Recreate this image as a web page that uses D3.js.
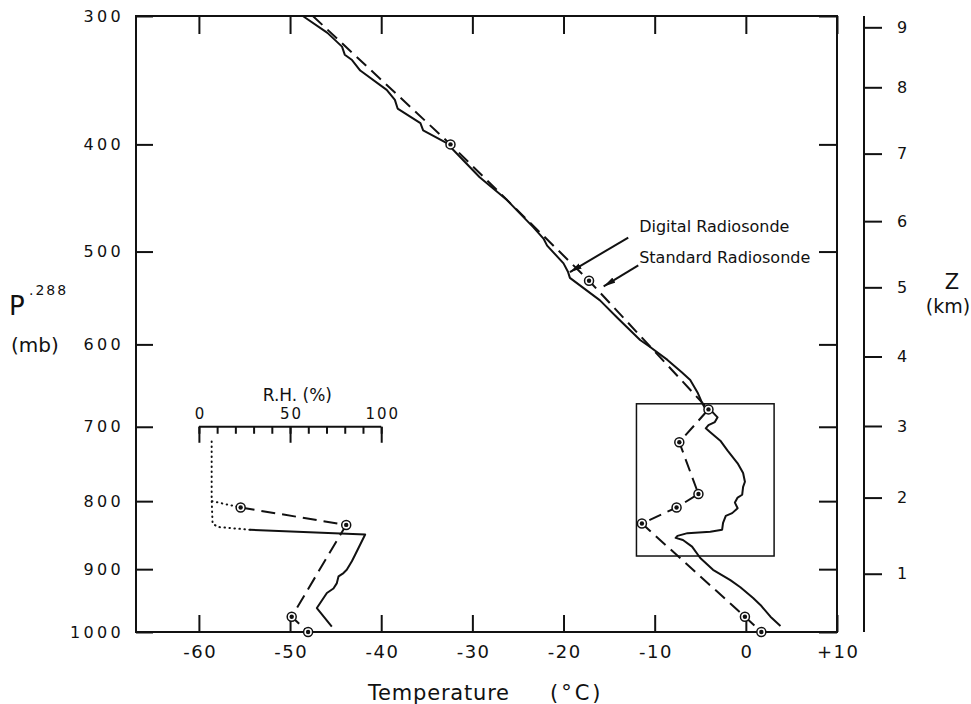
<!DOCTYPE html>

<head>
  <meta charset="utf-8">
  <title>Digital vs Standard Radiosonde</title>
  <style>
    body {
      margin: 0;
      background: #fff;
    }

    text {
      font-family: "DejaVu Sans", sans-serif;
      fill: #111;
    }

    .axis .domain {
      display: none;
    }

    .axis line {
      stroke: #111;
      stroke-width: 2;
    }
  </style>
</head>

<body>

  <svg id="chart" width="971" height="704"></svg>

  <script src="https://d3js.org/d3.v7.min.js"></script>

  <script>

    /******* Data *******/

    //Axis ticks
    var pTicks = [300, 400, 500, 600, 700, 800, 900, 1000];
    var tTicks = [-60, -50, -40, -30, -20, -10, 0, 10];
    var rhTicks = [0, 10, 20, 30, 40, 50, 60, 70, 80, 90, 100];
    var rhLabels = [0, 50, 100];
    var zTicksKm = [1, 2, 3, 4, 5, 6, 7, 8, 9];
    var zTicksMb = [907, 795, 699, 614, 537, 470, 408, 353, 308];

    //Temperature soundings, [pressure mb, temperature C]
    var digitalT = [
      [300, -48.6], [312, -45.9], [322, -44.3], [328, -44.0], [332, -43.2], [340, -42.3],
      [355, -39.4], [363, -38.5], [370, -38.2], [382, -35.7], [388, -35.4], [399, -32.8],
      [429, -29.2], [450, -26.2], [476, -23.3], [487, -22.2], [494, -21.8], [512, -20.0],
      [521, -19.5], [527, -19.3], [551, -16.0], [570, -14.1], [595, -11.6], [603, -10.5],
      [618, -8.6], [633, -7.0], [642, -6.1], [657, -5.3], [670, -4.8], [676, -4.5],
      [682, -3.6], [688, -3.1], [694, -3.4], [698, -4.1], [702, -4.4], [707, -3.9],
      [718, -2.8], [731, -2.0], [748, -0.9], [761, -0.3], [773, -0.1], [780, -0.3],
      [791, -0.4], [795, -0.9], [802, -1.2], [810, -0.9], [817, -1.5], [821, -2.2],
      [831, -2.5], [841, -2.6], [844, -3.9], [846, -6.4], [850, -7.5], [853, -7.7],
      [856, -6.9], [866, -5.9], [883, -5.0], [901, -3.6], [917, -1.7], [928, -0.6],
      [945, 0.8], [956, 1.6], [975, 2.7], [990, 3.8]
    ];
    var standardT = [
      [300, -47.5], [400, -32.4], [530, -17.2], [678, -4.1], [720, -7.3],
      [790, -5.2], [809, -7.6], [832, -11.4], [975, -0.1], [1000, 1.7]
    ];

    //Relative humidity, [pressure mb, RH %]
    var digitalRH = [
      [841, 28], [848, 91.2], [878, 85.7], [888, 83.9], [901, 81.1], [906, 79.3],
      [911, 76.6], [922, 75.6], [930, 73.8], [937, 70.2], [961, 64.7], [991, 72.9]
    ];
    var digitalRHDry = [[719, 7], [798, 7], [832, 7.5], [837, 10.5], [841, 28]];
    var standardRH = [[809, 22.9], [834, 80.8], [975, 50.9], [1000, 59.9]];
    var standardRHDry = [[800, 7.2], [809, 22.9]];

    //Boxed layer (temperature C, pressure mb)
    var boxT = [-12, 3.1];
    var boxP = [671, 880];

    /******* Setup *******/

    var svg = d3.select("#chart"),
        margin = {top: 16, right: 134, bottom: 72, left: 136},
        width = +svg.attr("width") - margin.left - margin.right,
        height = +svg.attr("height") - margin.top - margin.bottom,
        graph = svg.append("g").attr("transform", "translate(" + margin.left + "," + margin.top + ")");

    var x = d3.scaleLinear().domain([-66.9, 10]).range([0, width]);
    var y = d3.scalePow().exponent(0.288).domain([300, 1000]).range([0, height]);
    var rh = d3.scaleLinear().domain([0, 100]).range([x(-60), x(-40)]);

    var fmtT = function(d) {
      return d > 0 ? "+" + d : String(d);
    };

    /******* Axes *******/

    graph.append("g")
      .attr("class", "axis")
      .attr("transform", "translate(0," + height + ")")
      .call(d3.axisBottom(x).tickValues(tTicks).tickSize(-17).tickPadding(13).tickFormat(fmtT))
      .selectAll("text")
      .style("font-size", "18px")
      .attr("letter-spacing", 1.5)
      .attr("dx", 0.75);

    graph.append("g")
      .attr("class", "axis")
      .call(d3.axisTop(x).tickValues(tTicks).tickSize(-18).tickFormat(""));

    graph.append("g")
      .attr("class", "axis")
      .call(d3.axisLeft(y).tickValues(pTicks).tickSize(-17).tickPadding(12).tickFormat(String))
      .selectAll("text")
      .style("font-size", "16px")
      .attr("letter-spacing", 3.3);

    graph.append("g")
      .attr("class", "axis")
      .attr("transform", "translate(" + width + ",0)")
      .call(d3.axisRight(y).tickValues(pTicks).tickSize(-18).tickFormat(""));

    graph.append("rect")
      .attr("width", width)
      .attr("height", height)
      .attr("fill", "none")
      .attr("stroke", "#111")
      .attr("stroke-width", 2);

    //Height axis on the right
    var zAxis = graph.append("g")
      .attr("class", "axis")
      .attr("transform", "translate(" + (width + 27) + ",0)")
      .call(d3.axisRight(y).tickValues(zTicksMb).tickSize(18).tickPadding(15)
        .tickFormat(function(d, i) { return zTicksKm[i]; }));
    zAxis.selectAll("text").style("font-size", "16px");
    zAxis.append("line")
      .attr("y1", 0)
      .attr("y2", height);

    /******* Temperature curves *******/

    var line = d3.line()
      .x(function(d) { return x(d[1]); })
      .y(function(d) { return y(d[0]); });

    graph.append("rect")
      .attr("x", x(boxT[0]))
      .attr("y", y(boxP[0]))
      .attr("width", x(boxT[1]) - x(boxT[0]))
      .attr("height", y(boxP[1]) - y(boxP[0]))
      .attr("fill", "none")
      .attr("stroke", "#111")
      .attr("stroke-width", 1.5);

    graph.append("path")
      .datum(standardT)
      .attr("d", line)
      .attr("fill", "none")
      .attr("stroke", "#111")
      .attr("stroke-width", 2)
      .attr("stroke-dasharray", "13,7");

    graph.append("path")
      .datum(digitalT)
      .attr("d", line)
      .attr("fill", "none")
      .attr("stroke", "#111")
      .attr("stroke-width", 2)
      .attr("stroke-linejoin", "round");

    /******* Relative humidity inset *******/

    var rhLine = d3.line()
      .x(function(d) { return rh(d[1]); })
      .y(function(d) { return y(d[0]); });

    var inset = graph.append("g")
      .attr("class", "axis")
      .attr("transform", "translate(0," + y(700) + ")");

    inset.call(d3.axisTop(rh).tickValues(rhTicks).tickSize(-7).tickFormat(""));

    var insetMajor = graph.append("g")
      .attr("class", "axis")
      .attr("transform", "translate(0," + y(700) + ")")
      .call(d3.axisTop(rh).tickValues(rhLabels).tickSize(-16).tickPadding(8));
    insetMajor.selectAll("text")
      .style("font-size", "15px")
      .attr("letter-spacing", 2)
      .attr("dx", 1);

    inset.append("line")
      .attr("x1", rh(0))
      .attr("x2", rh(100));

    graph.append("text")
      .attr("x", rh(54))
      .attr("y", y(700) - 26)
      .attr("text-anchor", "middle")
      .style("font-size", "17px")
      .text("R.H. (%)");

    graph.append("path")
      .datum(digitalRHDry)
      .attr("d", rhLine)
      .attr("fill", "none")
      .attr("stroke", "#111")
      .attr("stroke-width", 2)
      .attr("stroke-linecap", "round")
      .attr("stroke-dasharray", "0.5,4.5");

    graph.append("path")
      .datum(standardRHDry)
      .attr("d", rhLine)
      .attr("fill", "none")
      .attr("stroke", "#111")
      .attr("stroke-width", 2)
      .attr("stroke-linecap", "round")
      .attr("stroke-dasharray", "0.5,4.5");

    graph.append("path")
      .datum(digitalRH)
      .attr("d", rhLine)
      .attr("fill", "none")
      .attr("stroke", "#111")
      .attr("stroke-width", 2)
      .attr("stroke-linejoin", "round");

    graph.append("path")
      .datum(standardRH)
      .attr("d", rhLine)
      .attr("fill", "none")
      .attr("stroke", "#111")
      .attr("stroke-width", 2)
      .attr("stroke-dasharray", "14,7");

    /******* Markers *******/

    var markerData = standardT.slice(1).map(function(d) {
      return [x(d[1]), y(d[0])];
    }).concat(standardRH.map(function(d) {
      return [rh(d[1]), y(d[0])];
    }));

    var marks = graph.append("g")
      .selectAll("g")
      .data(markerData)
      .enter().append("g")
      .attr("transform", function(d) {
        return "translate(" + d[0] + "," + d[1] + ")";
      });

    marks.append("circle")
      .attr("r", 4.5)
      .attr("fill", "#fff")
      .attr("stroke", "#111")
      .attr("stroke-width", 1.5);

    marks.append("circle")
      .attr("r", 2.2)
      .attr("fill", "#111");

    /******* Annotations *******/

    svg.append("defs").append("marker")
      .attr("id", "arrow")
      .attr("viewBox", "0 0 12 6")
      .attr("refX", 12)
      .attr("refY", 3)
      .attr("markerWidth", 12)
      .attr("markerHeight", 6)
      .attr("markerUnits", "userSpaceOnUse")
      .attr("orient", "auto")
      .append("path")
      .attr("d", "M0,0 L12,3 L0,6 Z")
      .attr("fill", "#111");

    //[from T, from P, to T, to P]
    var arrows = [
      [-12.9, 486, -19.3, 521],
      [-11.8, 514, -15.6, 536]
    ];

    graph.selectAll(".arrow")
      .data(arrows)
      .enter().append("line")
      .attr("class", "arrow")
      .attr("x1", function(d) { return x(d[0]); })
      .attr("y1", function(d) { return y(d[1]); })
      .attr("x2", function(d) { return x(d[2]); })
      .attr("y2", function(d) { return y(d[3]); })
      .attr("stroke", "#111")
      .attr("stroke-width", 2)
      .attr("marker-end", "url(#arrow)");

    graph.append("text")
      .attr("x", x(-11.7))
      .attr("y", y(481))
      .style("font-size", "16px")
      .text("Digital Radiosonde");

    graph.append("text")
      .attr("x", x(-11.7))
      .attr("y", y(512))
      .style("font-size", "16px")
      .text("Standard Radiosonde");

    /******* Axis titles *******/

    svg.append("text")
      .attr("x", 368)
      .attr("y", 700)
      .attr("letter-spacing", 0.8)
      .style("font-size", "21px")
      .text("Temperature");

    svg.append("text")
      .attr("x", 550)
      .attr("y", 700)
      .attr("letter-spacing", 3)
      .style("font-size", "21px")
      .text("(°C)");

    svg.append("text")
      .attr("x", 9)
      .attr("y", 315)
      .style("font-size", "26px")
      .text("P");

    svg.append("text")
      .attr("x", 29)
      .attr("y", 295)
      .attr("letter-spacing", 2)
      .style("font-size", "14px")
      .text(".288");

    svg.append("text")
      .attr("x", 11)
      .attr("y", 352)
      .style("font-size", "20px")
      .text("(mb)");

    svg.append("text")
      .attr("x", 952)
      .attr("y", 289)
      .attr("text-anchor", "middle")
      .style("font-size", "21px")
      .text("Z");

    svg.append("text")
      .attr("x", 948)
      .attr("y", 313)
      .attr("text-anchor", "middle")
      .style("font-size", "19px")
      .text("(km)");

  </script>
</body>
